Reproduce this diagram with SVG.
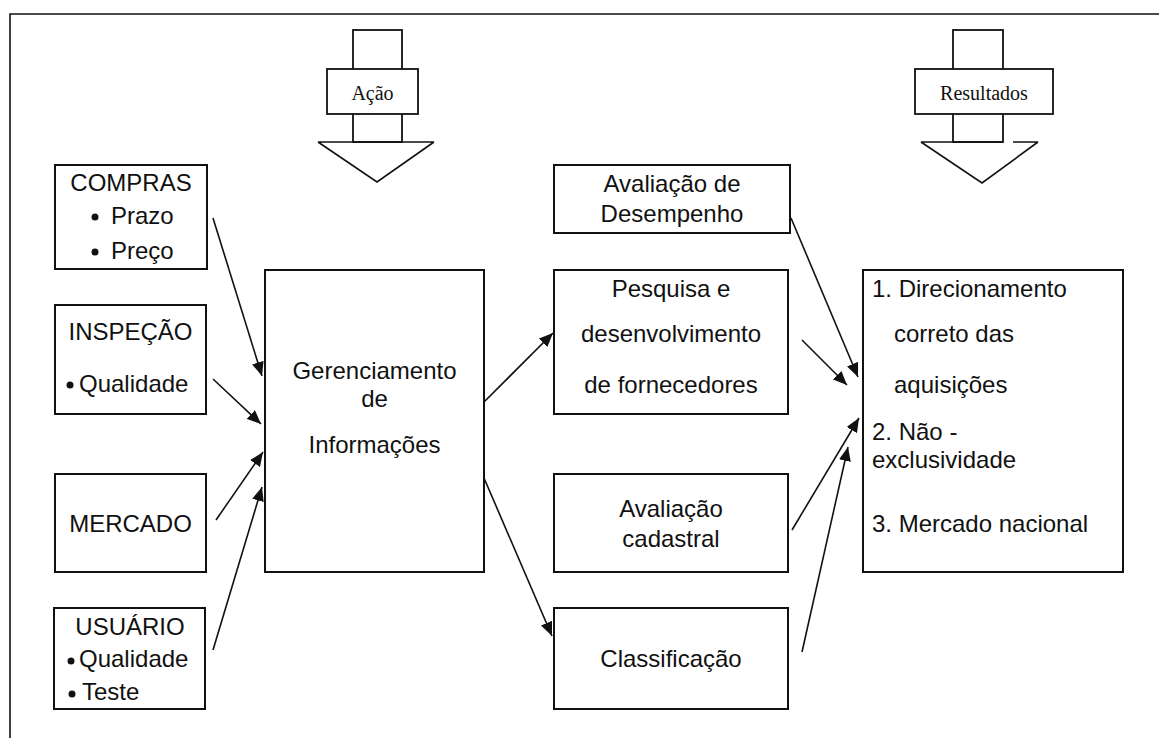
<svg xmlns="http://www.w3.org/2000/svg" width="1159" height="738" viewBox="0 0 1159 738">
<defs>
<style>
.box{fill:#fff;stroke:#111;stroke-width:2}
.t{font-family:"Liberation Sans",Arial,sans-serif;font-size:24px;fill:#111}
.c{text-anchor:middle}
.s{font-family:"Liberation Serif","Times New Roman",serif;font-size:20px;fill:#111;text-anchor:middle}
.ln{stroke:#111;stroke-width:1.6;fill:none}
.big{fill:#fff;stroke:#111;stroke-width:1.8}
</style>
<marker id="ah" markerUnits="userSpaceOnUse" markerWidth="16" markerHeight="12" refX="14" refY="6" orient="auto">
<path d="M0,0 L14,6 L0,12 Z" fill="#111"/>
</marker>
</defs>
<rect width="1159" height="738" fill="#fff"/>
<g id="frame">
<path class="ln" d="M10,738 L10,14 L1159,14" stroke-width="2.2"/>
</g>
<g id="acao">
<rect class="big" x="353" y="30" width="49" height="112"/>
<path class="ln" d="M318,142 L434,142 M318,142 L377,182 L434,142"/>
<rect class="big" x="327" y="69" width="91" height="45"/>
<text class="s" x="372.5" y="100">Ação</text>
</g>
<g id="resultados">
<rect class="big" x="953" y="30" width="50" height="112"/>
<path class="ln" d="M921,142 L1003,142 M1013,142 L1038,142 M921,142 L982,183 L1038,142"/>
<rect class="big" x="915" y="69" width="138" height="45"/>
<text class="s" x="984" y="100">Resultados</text>
</g>
<g id="compras">
<rect class="box" x="55" y="165" width="152" height="104"/>
<text class="t c" x="131" y="191">COMPRAS</text>
<circle cx="95" cy="217" r="3.5" fill="#111"/>
<text class="t" x="111" y="224">Prazo</text>
<circle cx="95" cy="252" r="3.5" fill="#111"/>
<text class="t" x="111" y="259">Preço</text>
</g>
<g id="inspecao">
<rect class="box" x="55" y="305" width="151" height="109"/>
<text class="t c" x="130.5" y="340">INSPEÇÃO</text>
<circle cx="70" cy="385" r="3.5" fill="#111"/>
<text class="t" x="79" y="392">Qualidade</text>
</g>
<g id="mercado">
<rect class="box" x="55" y="474" width="151" height="98"/>
<text class="t c" x="130.5" y="532">MERCADO</text>
</g>
<g id="usuario">
<rect class="box" x="54" y="608" width="151" height="101"/>
<text class="t c" x="130" y="635">USUÁRIO</text>
<circle cx="71" cy="661" r="3.5" fill="#111"/>
<text class="t" x="79" y="667">Qualidade</text>
<circle cx="72" cy="694" r="3.5" fill="#111"/>
<text class="t" x="82" y="700">Teste</text>
</g>
<g id="gerenciamento">
<rect class="box" x="265" y="270" width="219" height="302"/>
<text class="t c" x="374.5" y="379">Gerenciamento</text>
<text class="t c" x="374.5" y="407">de</text>
<text class="t c" x="374.5" y="453">Informações</text>
</g>
<g id="desempenho">
<rect class="box" x="554" y="165" width="236" height="68"/>
<text class="t c" x="672" y="192">Avaliação de</text>
<text class="t c" x="672" y="222">Desempenho</text>
</g>
<g id="pesquisa">
<rect class="box" x="554" y="270" width="234" height="144"/>
<text class="t c" x="671" y="297">Pesquisa e</text>
<text class="t c" x="671" y="342">desenvolvimento</text>
<text class="t c" x="671" y="393">de fornecedores</text>
</g>
<g id="cadastral">
<rect class="box" x="554" y="474" width="234" height="98"/>
<text class="t c" x="671" y="517">Avaliação</text>
<text class="t c" x="671" y="547">cadastral</text>
</g>
<g id="classificacao">
<rect class="box" x="554" y="608" width="234" height="101"/>
<text class="t c" x="671" y="667">Classificação</text>
</g>
<g id="resultadosbox">
<rect class="box" x="863" y="270" width="260" height="302"/>
<text class="t" x="872" y="297">1. Direcionamento</text>
<text class="t" x="894" y="342">correto das</text>
<text class="t" x="894" y="393">aquisições</text>
<text class="t" x="872" y="440">2. Não -</text>
<text class="t" x="872" y="468">exclusividade</text>
<text class="t" x="872" y="532">3. Mercado nacional</text>
</g>
<g id="connectors">
<line class="ln" x1="213" y1="218" x2="262" y2="376" marker-end="url(#ah)"/>
<line class="ln" x1="213" y1="379" x2="261" y2="424" marker-end="url(#ah)"/>
<line class="ln" x1="216" y1="520" x2="263" y2="452" marker-end="url(#ah)"/>
<line class="ln" x1="213" y1="650" x2="262" y2="487" marker-end="url(#ah)"/>
<line class="ln" x1="484" y1="402" x2="553" y2="333" marker-end="url(#ah)"/>
<line class="ln" x1="484" y1="478" x2="552" y2="636" marker-end="url(#ah)"/>
<line class="ln" x1="791" y1="218" x2="858" y2="377" marker-end="url(#ah)"/>
<line class="ln" x1="802" y1="340" x2="847" y2="385" marker-end="url(#ah)"/>
<line class="ln" x1="792" y1="530" x2="859" y2="418" marker-end="url(#ah)"/>
<line class="ln" x1="802" y1="652" x2="848" y2="447" marker-end="url(#ah)"/>
</g>
</svg>
